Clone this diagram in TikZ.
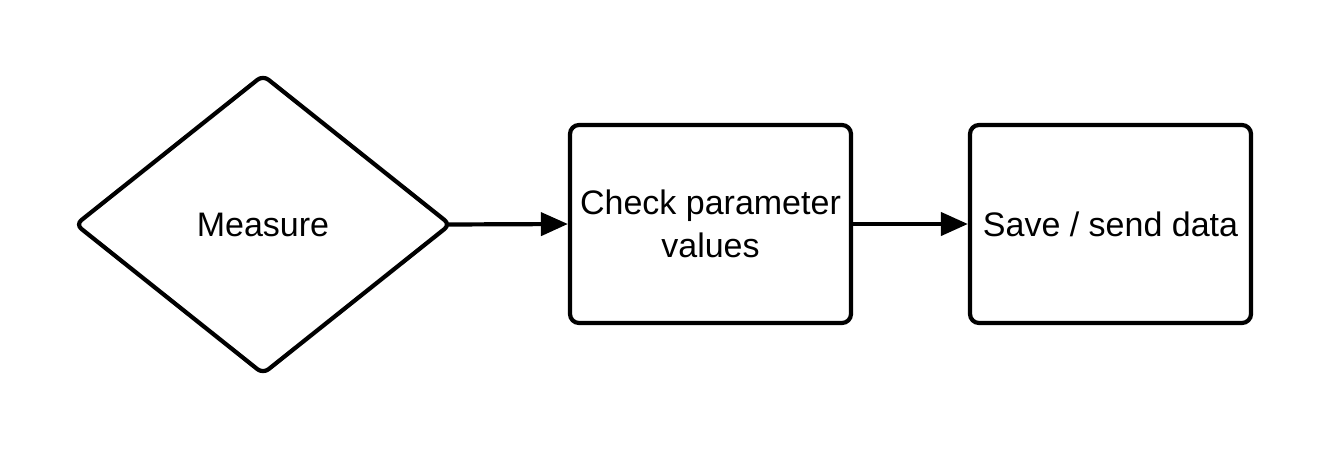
\documentclass[tikz,border=0pt]{standalone}
\usepackage{fontspec}
\setmainfont{Liberation Sans}
\usetikzlibrary{shapes.geometric,arrows.meta}
\begin{document}
\begin{tikzpicture}[x=1pt,y=-1pt,
  every node/.style={font=\fontsize{34}{43}\selectfont, text=black},
  box/.style={draw, line width=4.2pt, rounded corners=9pt, minimum width=281pt, minimum height=198pt, inner sep=0pt, align=center},
  decision/.style={draw, diamond, line width=4.2pt, rounded corners=7pt, minimum width=376pt, minimum height=300pt, inner sep=0pt},
  flow/.style={line width=4.2pt, -{Triangle[length=27pt,width=23pt]}}]
\useasboundingbox (0,0) rectangle (1328,450);
\node[decision] (measure) at (263,224.5) {Measure};
\node[box] (check) at (710.5,224) {Check parameter\\values};
\node[box] (save) at (1110.5,224) {Save / send data};
\draw[flow] ([xshift=-6pt]measure.east) -- (check.west);
\draw[flow] (check.east) -- (save.west);
\end{tikzpicture}
\end{document}
